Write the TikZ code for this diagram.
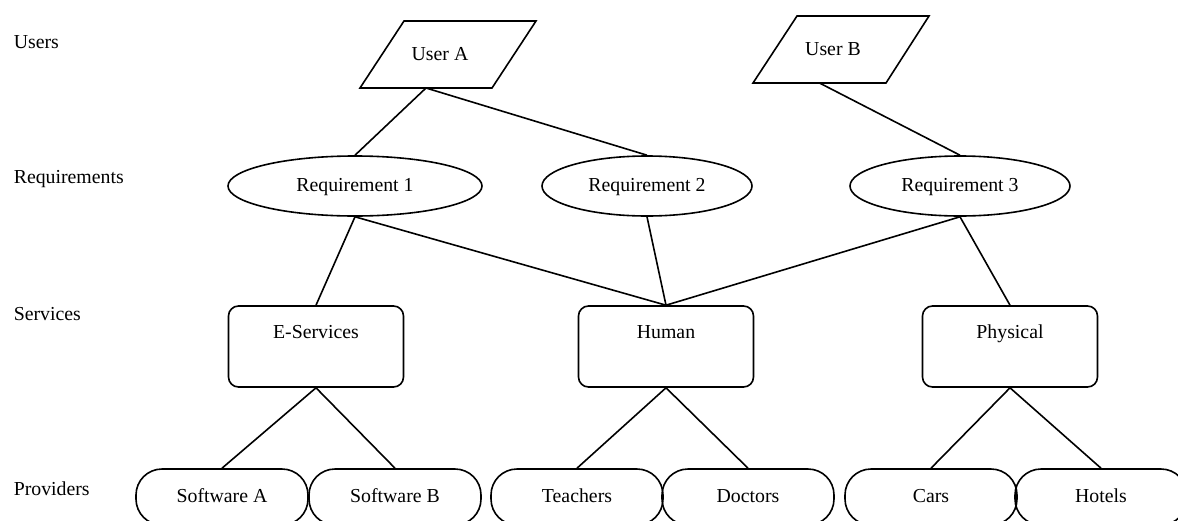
\documentclass[tikz,border=0pt]{standalone}
\usepackage{fontspec}
\setmainfont{Liberation Serif}
\usetikzlibrary{shapes.geometric}
\begin{document}
\begin{tikzpicture}[x=0.5pt,y=-0.5pt, line width=0.8pt,
  every node/.style={font=\fontsize{9.9}{12}\selectfont, inner sep=0pt, text height=1.6ex, text depth=0.3ex},
  req/.style={ellipse, draw, minimum height=30pt},
  svc/.style={draw, rounded corners=5pt, minimum width=87.5pt, minimum height=40.5pt},
  prov/.style={draw, rounded corners=13pt, minimum width=86pt, minimum height=28pt},
  lvl/.style={anchor=west}]
\useasboundingbox (0,0) rectangle (1178,520);

% level labels
\node[lvl] (lu) at (13,43) {Users};
\node[lvl] (lr) at (13,178) {Requirements};
\node[lvl] (ls) at (13,315) {Services};
\node[lvl] (lp) at (13,490) {Providers};

% users
\draw (360,88) -- (404,21) -- (536,21) -- (492,88) -- cycle;
\node (ua) at (440,55) {User A};
\coordinate (uaB) at (426,88);
\draw (753,83) -- (797,16) -- (929,16) -- (886,83) -- cycle;
\node (ub) at (833,50) {User B};
\coordinate (ubB) at (819.5,83);

% requirements
\node[req, minimum width=127pt] (r1) at (355,186) {Requirement 1};
\node[req, minimum width=105pt] (r2) at (647,186) {Requirement 2};
\node[req, minimum width=110pt] (r3) at (960,186) {Requirement 3};

% services
\node[svc] (es) at (316,346.5) {};
\node (est) at (316,333) {E-Services};
\node[svc] (hu) at (666,346.5) {};
\node (hut) at (666,333) {Human};
\node[svc] (ph) at (1010,346.5) {};
\node (pht) at (1010,333) {Physical};

% providers
\node[prov] (sa) at (222,497) {Software A};
\node[prov] (sb) at (395,497) {Software B};
\node[prov] (te) at (577,497) {Teachers};
\node[prov] (do) at (748,497) {Doctors};
\node[prov] (ca) at (931,497) {Cars};
\node[prov] (ho) at (1101,497) {Hotels};

% connectors
\draw (uaB) -- (r1.north);
\draw (uaB) -- (r2.north);
\draw (ubB) -- (r3.north);
\draw (r1.south) -- (es.north);
\draw (r1.south) -- (hu.north);
\draw (r2.south) -- (hu.north);
\draw (r3.south) -- (hu.north);
\draw (r3.south) -- (ph.north);
\draw (es.south) -- (sa.north);
\draw (es.south) -- (sb.north);
\draw (hu.south) -- (te.north);
\draw (hu.south) -- (do.north);
\draw (ph.south) -- (ca.north);
\draw (ph.south) -- (ho.north);
\end{tikzpicture}
\end{document}
